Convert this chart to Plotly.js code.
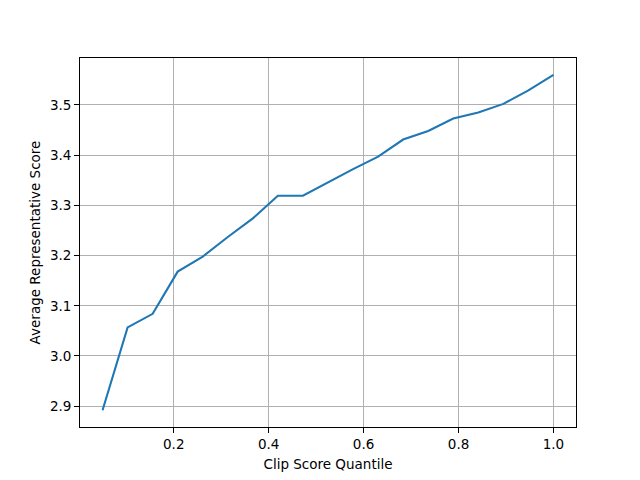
<!DOCTYPE html>
<html>
<head>
<meta charset="utf-8">
<script src="https://cdn.plot.ly/plotly-3.0.1.min.js"></script>
<style>html,body{margin:0;padding:0;background:#fff;}#chart{width:640px;height:480px;}</style>
</head>
<body>
<div id="chart"></div>
<script>
const quantiles = [0.05, 0.1028, 0.1556, 0.2083, 0.2611, 0.3139, 0.3667, 0.4194, 0.4722, 0.525, 0.5778, 0.6306, 0.6833, 0.7361, 0.7889, 0.8417, 0.8944, 0.9472, 1.0];
const avgScores = [2.892, 3.057, 3.084, 3.168, 3.198, 3.237, 3.274, 3.319, 3.319, 3.346, 3.372, 3.397, 3.431, 3.448, 3.473, 3.485, 3.502, 3.529, 3.560];
const xTicks = [0.2, 0.4, 0.6, 0.8, 1.0];
const yTicks = [2.9, 3.0, 3.1, 3.2, 3.3, 3.4, 3.5];

const font = {family: 'DejaVu Sans, sans-serif', size: 13.5, color: '#000'};
const axisCommon = {
  showline: true, mirror: true, linecolor: '#000', linewidth: 1,
  ticks: 'outside', ticklen: 4.9, tickwidth: 1, tickcolor: '#000',
  showgrid: true, gridcolor: '#b0b0b0', gridwidth: 1,
  zeroline: false, tickfont: font, tickformat: '.1f', tickmode: 'array'
};
Plotly.newPlot('chart', [{
  x: quantiles, y: avgScores, type: 'scatter', mode: 'lines',
  line: {color: '#1f77b4', width: 2.1}
}], {
  width: 640, height: 480,
  margin: {l: 80, r: 64, t: 58, b: 53},
  paper_bgcolor: '#fff', plot_bgcolor: '#fff',
  showlegend: false,
  font: font,
  xaxis: Object.assign({}, axisCommon, {
    range: [0.0025, 1.0475], tickvals: xTicks,
    title: {text: 'Clip Score Quantile', font: font, standoff: 8}
  }),
  yaxis: Object.assign({}, axisCommon, {
    range: [2.8586, 3.5934], tickvals: yTicks,
    title: {text: 'Average Representative Score', font: font, standoff: 6}
  })
}, {displayModeBar: false, staticPlot: true});
</script>
</body>
</html>
